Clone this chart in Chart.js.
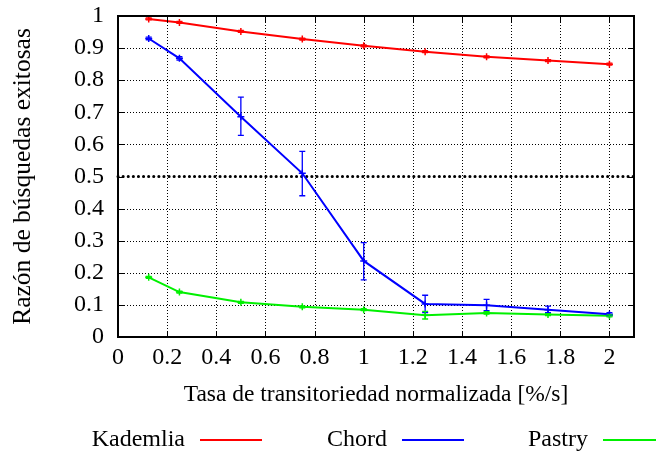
<!DOCTYPE html>
<html>
<head>
<meta charset="utf-8">
<script src="https://cdn.jsdelivr.net/npm/chart.js@4/dist/chart.umd.min.js"></script>
<style>
    html, body { margin: 0; padding: 0; background: #fff; }
    #wrap { width: 656px; height: 455px; }
</style>
</head>
<body>
<div id="wrap"><canvas id="successChart" width="656" height="455"></canvas></div>
<script>
// Normalized churn rate [%/s]
const rates = [0.125, 0.25, 0.5, 0.75, 1, 1.25, 1.5, 1.75, 2];

const kademlia = [0.991, 0.980, 0.952, 0.928, 0.907, 0.889, 0.873, 0.861, 0.850];
const kademliaLow = [0.988, 0.977, 0.949, 0.925, 0.904, 0.886, 0.870, 0.858, 0.847];
const kademliaHigh = [0.994, 0.983, 0.955, 0.931, 0.910, 0.892, 0.876, 0.864, 0.853];

const chord = [0.930, 0.868, 0.686, 0.510, 0.237, 0.103, 0.099, 0.085, 0.071];
const chordLow = [0.926, 0.863, 0.628, 0.440, 0.178, 0.076, 0.082, 0.076, 0.067];
const chordHigh = [0.934, 0.873, 0.747, 0.578, 0.294, 0.130, 0.117, 0.096, 0.076];

const pastry = [0.186, 0.140, 0.108, 0.094, 0.085, 0.068, 0.075, 0.070, 0.066];
const pastryLow = [0.183, 0.137, 0.105, 0.091, 0.082, 0.056, 0.071, 0.067, 0.063];
const pastryHigh = [0.189, 0.143, 0.111, 0.097, 0.088, 0.080, 0.079, 0.073, 0.069];

const seriesNames = ['Kademlia', 'Chord', 'Pastry'];
const xTickValues = [0, 0.2, 0.4, 0.6, 0.8, 1, 1.2, 1.4, 1.6, 1.8, 2];
const yTickValues = [0, 0.1, 0.2, 0.3, 0.4, 0.5, 0.6, 0.7, 0.8, 0.9, 1];
const threshold = 0.5;

const serif = '"Liberation Serif", "Times New Roman", serif';

function toPoints(values) {
    return values.map((v, i) => ({ x: rates[i], y: v }));
}

function makeSet(label, values, low, high, color) {
    return {
        label: label,
        data: toPoints(values),
        errLow: low,
        errHigh: high,
        borderColor: color,
        backgroundColor: color,
        borderWidth: 2,
        pointStyle: 'cross',
        pointRadius: 3.5,
        pointBorderWidth: 1.5,
        tension: 0
    };
}

// dotted grid, frame, inward ticks, 0.5 reference line, error bars, key
const gnuplotLook = {
    id: 'gnuplotLook',
    beforeDatasetsDraw(chart) {
        const ctx = chart.ctx;
        const xs = chart.scales.x;
        const ys = chart.scales.y;
        const a = chart.chartArea;

        ctx.save();
        ctx.strokeStyle = '#000';
        ctx.lineWidth = 1;
        ctx.setLineDash([1, 2]);
        ctx.beginPath();
        xs.ticks.forEach(t => {
            const px = Math.round(xs.getPixelForValue(t.value)) + 0.5;
            ctx.moveTo(px, a.top);
            ctx.lineTo(px, a.bottom);
        });
        ys.ticks.forEach(t => {
            if (t.value === threshold) return;
            const py = Math.round(ys.getPixelForValue(t.value)) + 0.5;
            ctx.moveTo(a.left, py);
            ctx.lineTo(a.right, py);
        });
        ctx.stroke();
        ctx.restore();

        const yt = ys.getPixelForValue(threshold);
        ctx.save();
        ctx.strokeStyle = '#000';
        ctx.lineWidth = 3;
        ctx.lineCap = 'round';
        ctx.setLineDash([0.1, 5]);
        ctx.beginPath();
        ctx.moveTo(a.left, yt);
        ctx.lineTo(a.right, yt);
        ctx.stroke();
        ctx.restore();
    },
    afterDatasetsDraw(chart) {
        const ctx = chart.ctx;
        const xs = chart.scales.x;
        const ys = chart.scales.y;
        const a = chart.chartArea;

        // error bars
        chart.data.datasets.forEach(ds => {
            ctx.save();
            ctx.strokeStyle = ds.borderColor;
            ctx.lineWidth = 1.3;
            ds.data.forEach((p, i) => {
                const px = xs.getPixelForValue(p.x);
                const lo = ys.getPixelForValue(ds.errLow[i]);
                const hi = ys.getPixelForValue(ds.errHigh[i]);
                ctx.beginPath();
                ctx.moveTo(px, lo);
                ctx.lineTo(px, hi);
                ctx.moveTo(px - 3, lo);
                ctx.lineTo(px + 3, lo);
                ctx.moveTo(px - 3, hi);
                ctx.lineTo(px + 3, hi);
                ctx.stroke();
            });
            ctx.restore();
        });

        ctx.save();
        ctx.strokeStyle = '#000';
        ctx.lineWidth = 1;
        const tl = 6;
        ctx.beginPath();
        xs.ticks.forEach(t => {
            const px = Math.round(xs.getPixelForValue(t.value)) + 0.5;
            ctx.moveTo(px, a.bottom);
            ctx.lineTo(px, a.bottom - tl);
            ctx.moveTo(px, a.top);
            ctx.lineTo(px, a.top + tl);
        });
        ys.ticks.forEach(t => {
            const py = Math.round(ys.getPixelForValue(t.value)) + 0.5;
            ctx.moveTo(a.left, py);
            ctx.lineTo(a.left + tl, py);
            ctx.moveTo(a.right, py);
            ctx.lineTo(a.right - tl, py);
        });
        ctx.stroke();

        ctx.lineWidth = 2;
        ctx.strokeRect(a.left, a.top, a.right - a.left, a.bottom - a.top);
        ctx.restore();

        // key below the axis title
        ctx.save();
        ctx.font = '24px ' + serif;
        ctx.textAlign = 'right';
        ctx.textBaseline = 'middle';
        const keyY = 440;
        const textRight = [185, 387, 588];
        chart.data.datasets.forEach((ds, i) => {
            ctx.fillStyle = '#000';
            ctx.fillText(seriesNames[i], textRight[i], keyY);
            ctx.strokeStyle = ds.borderColor;
            ctx.lineWidth = 2;
            ctx.beginPath();
            ctx.moveTo(textRight[i] + 15, keyY);
            ctx.lineTo(textRight[i] + 77, keyY);
            ctx.stroke();
        });
        ctx.restore();
    }
};

function fmt(v) {
    return String(Number(v.toFixed(1)));
}

new Chart(document.getElementById('successChart').getContext('2d'), {
    type: 'line',
    data: {
        datasets: [
            makeSet(seriesNames[0], kademlia, kademliaLow, kademliaHigh, '#ff0000'),
            makeSet(seriesNames[1], chord, chordLow, chordHigh, '#0000ff'),
            makeSet(seriesNames[2], pastry, pastryLow, pastryHigh, '#00f000')
        ]
    },
    options: {
        responsive: false,
        animation: false,
        layout: { padding: { left: 0, right: 22, top: 16, bottom: 45 } },
        plugins: {
            legend: { display: false },
            tooltip: { enabled: false }
        },
        scales: {
            x: {
                type: 'linear',
                min: 0,
                max: 2.1,
                afterBuildTicks: scale => {
                    scale.ticks = xTickValues.map(v => ({ value: v }));
                },
                afterFit: scale => {
                    scale.height = 73;
                    scale.paddingLeft = 0;
                    scale.paddingRight = 0;
                },
                ticks: {
                    padding: 6,
                    color: '#000',
                    maxRotation: 0,
                    autoSkip: false,
                    font: { family: serif, size: 24 },
                    callback: v => fmt(v)
                },
                grid: { display: false, drawTicks: false },
                border: { display: false },
                title: {
                    display: true,
                    text: 'Tasa de transitoriedad normalizada [%/s]',
                    color: '#000',
                    font: { family: serif, size: 23.5 },
                    padding: { top: 0, bottom: 1 }
                }
            },
            y: {
                min: 0,
                max: 1,
                afterBuildTicks: scale => {
                    scale.ticks = yTickValues.map(v => ({ value: v }));
                },
                afterFit: scale => {
                    scale.width = 118;
                    scale.paddingTop = 0;
                    scale.paddingBottom = 0;
                },
                ticks: {
                    padding: 14,
                    color: '#000',
                    autoSkip: false,
                    font: { family: serif, size: 24 },
                    callback: v => fmt(v)
                },
                grid: { display: false, drawTicks: false },
                border: { display: false },
                title: {
                    display: true,
                    text: 'Razón de búsquedas exitosas',
                    color: '#000',
                    font: { family: serif, size: 25.5 },
                    padding: { top: 8, bottom: 0 }
                }
            }
        }
    },
    plugins: [gnuplotLook]
});
</script>
</body>
</html>
